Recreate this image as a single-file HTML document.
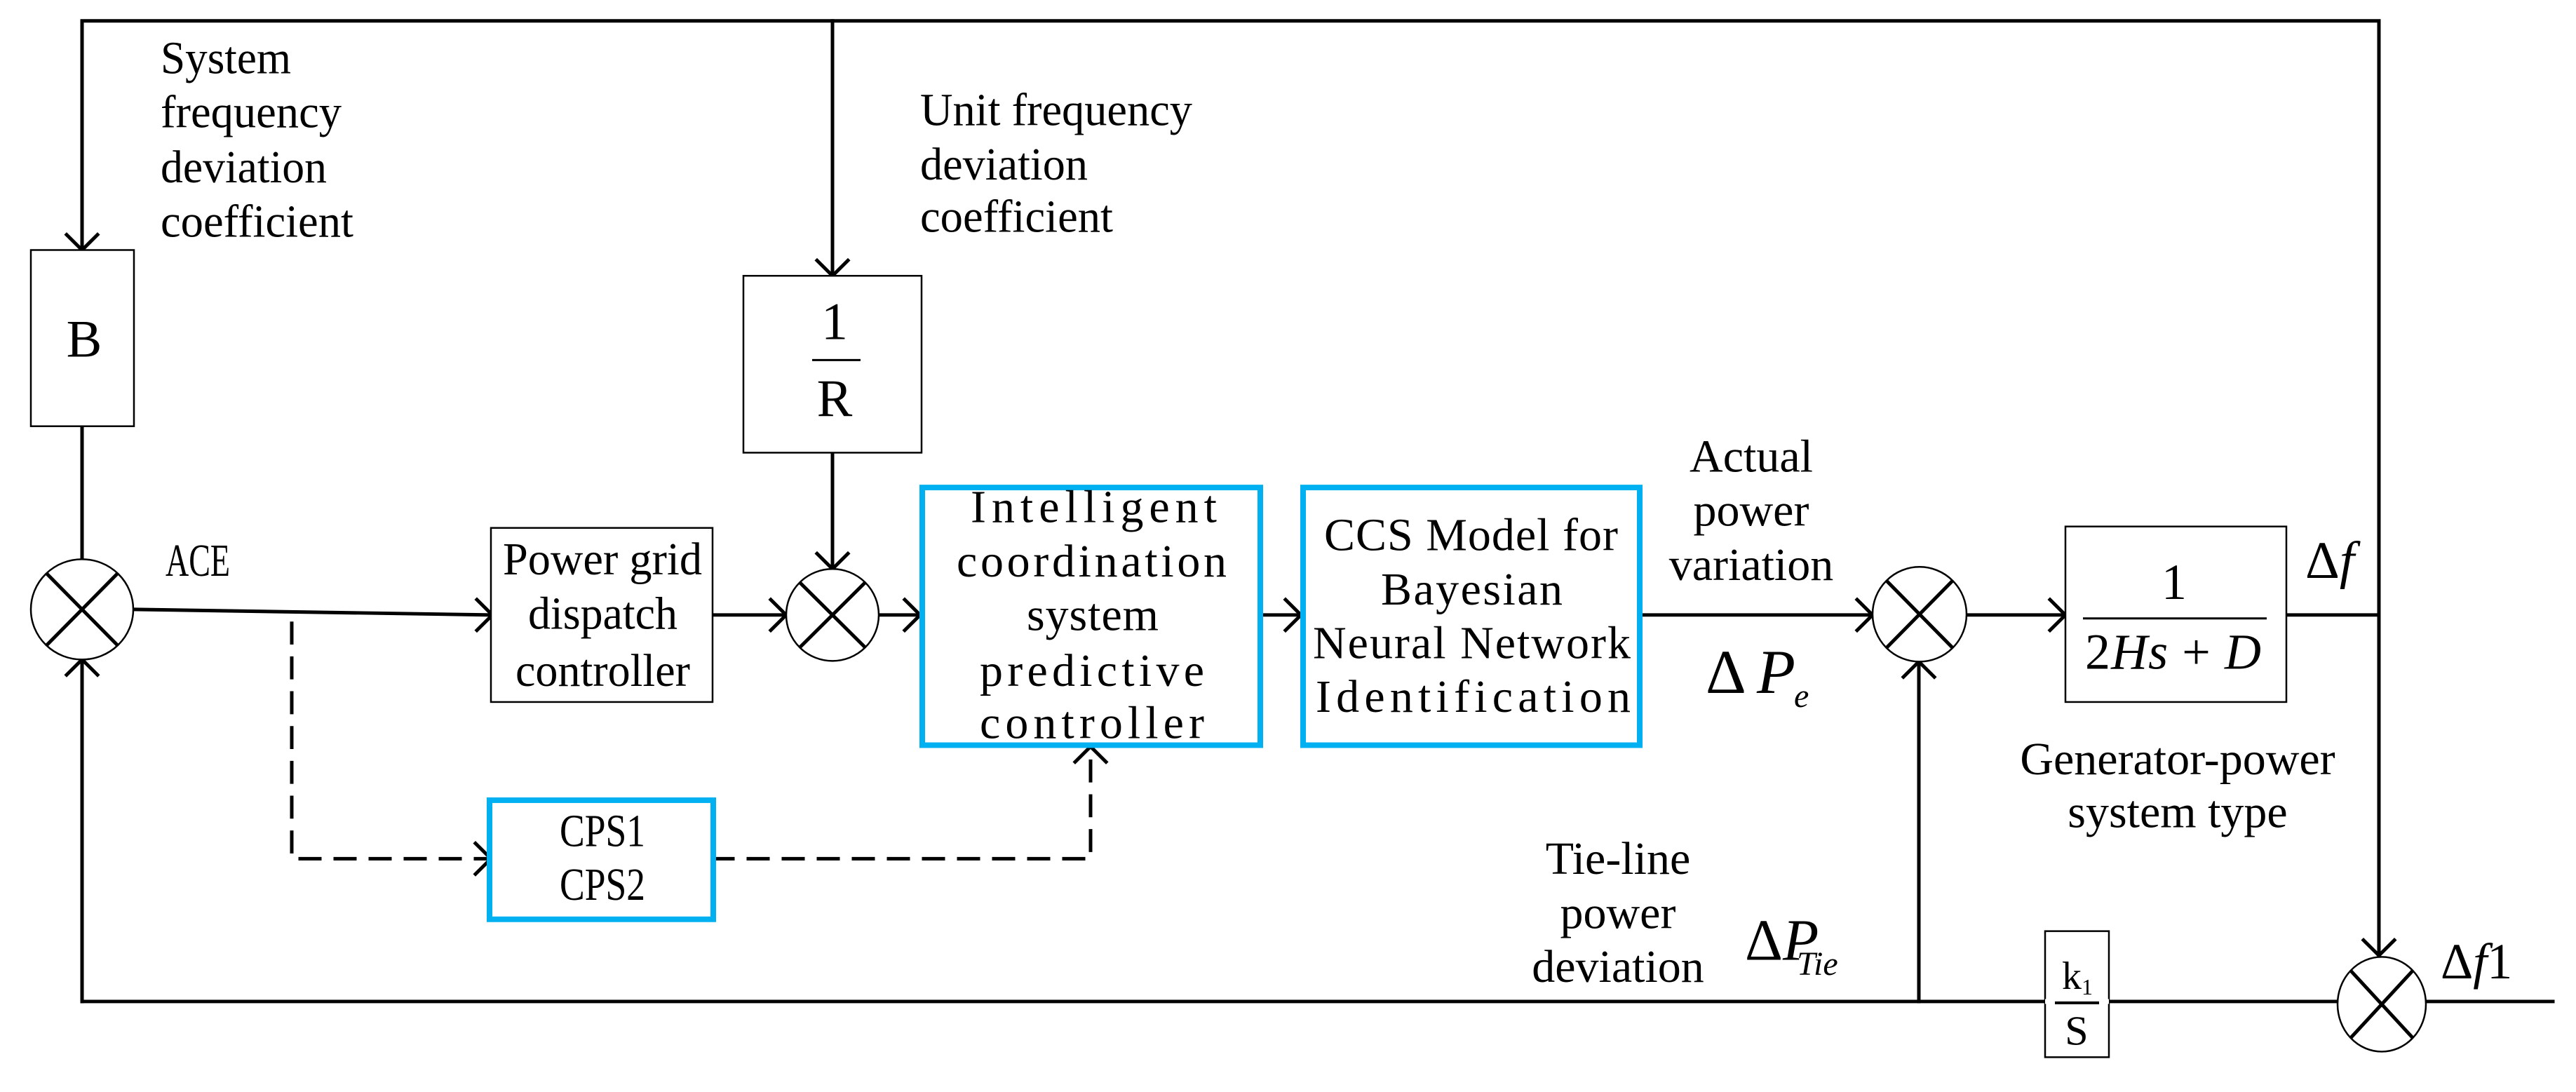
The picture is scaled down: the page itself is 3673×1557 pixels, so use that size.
<!DOCTYPE html>
<html><head><meta charset="utf-8"><style>
html,body{margin:0;padding:0;background:#fff;}
svg{display:block}
text{font-family:"Liberation Serif",serif;fill:#000}
</style></head><body>
<svg width="3673" height="1557" viewBox="0 0 3673 1557" xmlns="http://www.w3.org/2000/svg">
<g transform="scale(1,0.993)">
<g stroke="#000" stroke-width="5" fill="none" stroke-linecap="square">
<!-- top line -->
<polyline points="117,1438 117,30 3392,30 3392,1372"/>
<!-- B to sum1 -->
<line x1="117" y1="612" x2="117" y2="802"/>
<!-- 1/R vertical -->
<line x1="1187" y1="30" x2="1187" y2="396"/>
<line x1="1187" y1="650" x2="1187" y2="817"/>
<!-- ACE line -->
<line x1="191" y1="875" x2="700" y2="883"/>
<line x1="1016" y1="883" x2="1121" y2="883"/>
<line x1="1254" y1="883" x2="1312" y2="883"/>
<line x1="1797" y1="883" x2="1855" y2="883"/>
<line x1="2338" y1="883" x2="2670" y2="883"/>
<line x1="2803" y1="883" x2="2945" y2="883"/>
<line x1="3260" y1="883" x2="3392" y2="883"/>
<!-- bottom line -->
<line x1="117" y1="1438" x2="3333" y2="1438"/>
<line x1="3459" y1="1438" x2="3640" y2="1438"/>
<line x1="2736" y1="1438" x2="2736" y2="950"/>
<!-- dashed -->
<polyline points="416,895 416,1233 700,1233" stroke-dasharray="28,22"/>
<polyline points="1017,1233 1555,1233 1555,1072" stroke-dasharray="28,22"/>
<!-- arrowheads -->
<polyline points="95,337 117,359 139,337"/>
<polyline points="1165,374 1187,396 1209,374"/>
<polyline points="1165,795 1187,817 1209,795"/>
<polyline points="95,969 117,947 139,969"/>
<polyline points="680,861 702,883 680,905"/>
<polyline points="1099,861 1121,883 1099,905"/>
<polyline points="1290,861 1312,883 1290,905"/>
<polyline points="1833,861 1855,883 1833,905"/>
<polyline points="2648,861 2670,883 2648,905"/>
<polyline points="2923,861 2945,883 2923,905"/>
<polyline points="2714,972 2736,950 2758,972"/>
<polyline points="678,1211 700,1233 678,1255"/>
<polyline points="1533,1094 1555,1072 1577,1094"/>
<polyline points="3370,1350 3392,1372 3414,1350"/>
</g>
<!-- thin boxes -->
<g stroke="#000" stroke-width="2.5" fill="#fff">
<rect x="44" y="359" width="147" height="253"/>
<rect x="1060" y="396" width="254" height="254"/>
<rect x="700" y="758" width="316" height="250"/>
<rect x="2945" y="756" width="315" height="252"/>
<rect x="2916" y="1337" width="91" height="181" fill="none"/>
</g>
<line x1="2916" y1="1438" x2="3007" y2="1438" stroke="#fff" stroke-width="7"/>
<!-- blue boxes -->
<g stroke="#00b0f0" stroke-width="8" fill="#fff">
<rect x="698" y="1149" width="319" height="171"/>
<rect x="1315" y="700" width="482" height="370"/>
<rect x="1858" y="700" width="480" height="370"/>
</g>
<!-- summing junctions -->
<g stroke="#000" fill="#fff">
<ellipse cx="117" cy="875" rx="73" ry="72" stroke-width="2.5"/>
<ellipse cx="1187" cy="883" rx="66" ry="66" stroke-width="2.5"/>
<ellipse cx="2737" cy="882" rx="67" ry="68" stroke-width="2.5"/>
<ellipse cx="3396" cy="1442" rx="63" ry="68" stroke-width="2.5"/>
</g>
<g stroke="#000" stroke-width="5">
<line x1="66" y1="823" x2="168" y2="927"/><line x1="168" y1="823" x2="66" y2="927"/>
<line x1="1141" y1="837" x2="1233" y2="929"/><line x1="1233" y1="837" x2="1141" y2="929"/>
<line x1="2690" y1="834" x2="2784" y2="930"/><line x1="2784" y1="834" x2="2690" y2="930"/>
<line x1="3352" y1="1394" x2="3440" y2="1490"/><line x1="3440" y1="1394" x2="3352" y2="1490"/>
</g>
<!-- fraction lines -->
<line x1="1158" y1="517" x2="1227" y2="517" stroke="#000" stroke-width="3"/>
<line x1="2970" y1="888" x2="3232" y2="888" stroke="#000" stroke-width="3"/>
<line x1="2930" y1="1440" x2="2993" y2="1440" stroke="#000" stroke-width="4"/>

<!-- texts -->
<g font-size="66">
<text x="229" y="105" textLength="186" lengthAdjust="spacingAndGlyphs">System</text>
<text x="229" y="183" textLength="258" lengthAdjust="spacingAndGlyphs">frequency</text>
<text x="229" y="262" textLength="237" lengthAdjust="spacingAndGlyphs">deviation</text>
<text x="229" y="340" textLength="275" lengthAdjust="spacingAndGlyphs">coefficient</text>
<text x="1312" y="180" textLength="388" lengthAdjust="spacingAndGlyphs">Unit frequency</text>
<text x="1312" y="258" textLength="239" lengthAdjust="spacingAndGlyphs">deviation</text>
<text x="1312" y="333" textLength="275" lengthAdjust="spacingAndGlyphs">coefficient</text>
<text x="236" y="827" textLength="92" lengthAdjust="spacingAndGlyphs">ACE</text>
<text x="717" y="825" textLength="284" lengthAdjust="spacingAndGlyphs">Power grid</text>
<text x="753" y="903" textLength="213" lengthAdjust="spacingAndGlyphs">dispatch</text>
<text x="735" y="985" textLength="249" lengthAdjust="spacingAndGlyphs">controller</text>
<text x="798" y="1215" textLength="122" lengthAdjust="spacingAndGlyphs">CPS1</text>
<text x="798" y="1292" textLength="122" lengthAdjust="spacingAndGlyphs">CPS2</text>
<text x="1384" y="750" textLength="351" lengthAdjust="spacing">Intelligent</text>
<text x="1364" y="828" textLength="385" lengthAdjust="spacing">coordination</text>
<text x="1464" y="905" textLength="188" lengthAdjust="spacing">system</text>
<text x="1397" y="985" textLength="320" lengthAdjust="spacing">predictive</text>
<text x="1397" y="1060" textLength="320" lengthAdjust="spacing">controller</text>
<text x="1888" y="790" textLength="419" lengthAdjust="spacing">CCS Model for</text>
<text x="1969" y="868" textLength="259" lengthAdjust="spacing">Bayesian</text>
<text x="1872" y="945" textLength="453" lengthAdjust="spacing">Neural Network</text>
<text x="1876" y="1022" textLength="449" lengthAdjust="spacing">Identification</text>
<text x="2497" y="677" text-anchor="middle">Actual</text>
<text x="2497" y="755" text-anchor="middle">power</text>
<text x="2497" y="833" text-anchor="middle">variation</text>
<text x="2307" y="1255" text-anchor="middle">Tie-line</text>
<text x="2307" y="1333" text-anchor="middle">power</text>
<text x="2307" y="1410" text-anchor="middle">deviation</text>
<text x="3105" y="1112" text-anchor="middle">Generator-power</text>
<text x="3105" y="1188" text-anchor="middle">system type</text>
</g>
<text x="120" y="512" font-size="76" text-anchor="middle">B</text>
<text x="1190" y="487" font-size="76" text-anchor="middle">1</text>
<text x="1190" y="597" font-size="76" text-anchor="middle">R</text>
<text x="3100" y="860" font-size="72" text-anchor="middle">1</text>
<text x="2973" y="960" font-size="72" textLength="251" lengthAdjust="spacing">2<tspan font-style="italic">Hs</tspan> + <tspan font-style="italic">D</tspan></text>
<text x="3287" y="830" font-size="76">Δ<tspan font-style="italic">f</tspan></text>
<text x="2432" y="995" font-size="90">Δ</text>
<text x="2505" y="995" font-size="90" font-style="italic">P</text>
<text x="2558" y="1015" font-size="48" font-style="italic">e</text>
<text x="2488" y="1378" font-size="84">Δ<tspan font-style="italic">P</tspan></text>
<text x="2562" y="1400" font-size="48" font-style="italic">Tie</text>
<text x="2940" y="1420" font-size="56">k</text>
<text x="2968" y="1428" font-size="32">1</text>
<text x="2961" y="1500" font-size="60" text-anchor="middle">S</text>
<text x="3480" y="1405" font-size="72">Δ<tspan font-style="italic">f</tspan>1</text>
</g>
</svg>
</body></html>
